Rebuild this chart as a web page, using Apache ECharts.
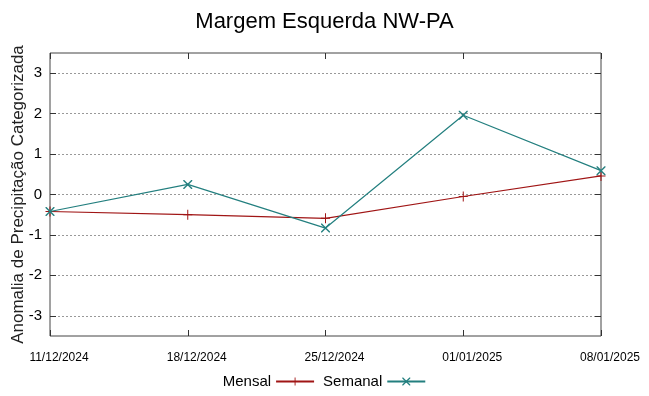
<!DOCTYPE html>
<html>
<head>
<meta charset="utf-8">
<script src="https://cdn.jsdelivr.net/npm/echarts@6/dist/echarts.min.js"></script>
<style>
  html, body { margin: 0; padding: 0; background: #fff; }
  #chart { width: 649px; height: 396px; }
</style>
</head>
<body>
<div id="chart"></div>
<script>
const dates = ['11/12/2024', '18/12/2024', '25/12/2024', '01/01/2025', '08/01/2025'];
const mensal = [-0.42, -0.5, -0.59, -0.05, 0.46];
const semanal = [-0.42, 0.25, -0.83, 1.96, 0.59];
const yTicks = [-3, -2, -1, 0, 1, 2, 3];

const plusPath = 'path://M0,4.5 L9,4.5 L9,5.5 L0,5.5 Z M4,0 L5,0 L5,10 L4,10 Z';
const crossPath = 'path://M0,0 L1,0 L9,8 L9,9 L8,9 L0,1 Z M8,0 L9,0 L9,1 L1,9 L0,9 L0,8 Z';

const chart = echarts.init(document.getElementById('chart'));

const yBase = {
    type: 'value',
    min: -3.5,
    max: 3.5,
    axisLine: { show: false },
    axisTick: { show: true, inside: true, length: 6, customValues: yTicks, lineStyle: { color: '#333' } },
};

const xBase = {
    type: 'category',
    data: dates,
    boundaryGap: false,
    axisLine: { show: false, onZero: false },
    axisTick: { show: true, inside: true, length: 6, lineStyle: { color: '#333' } },
    splitLine: { show: false }
};

chart.setOption({
    animation: false,
    title: {
        text: 'Margem Esquerda NW-PA',
        left: 'center',
        top: 6,
        textStyle: { fontFamily: 'Liberation Sans', fontSize: 22, fontWeight: 'normal', color: '#000' }
    },
    grid: {
        left: 50, right: 48, top: 53, bottom: 60,
        outerBoundsMode: 'none',
        containLabel: false,
        show: true, borderColor: '#444', borderWidth: 1, backgroundColor: '#fff'
    },
    legend: {
        bottom: 2,
        left: 'center',
        align: 'right',
        itemWidth: 38,
        itemHeight: 10,
        itemGap: 8,
        textStyle: { fontFamily: 'Liberation Sans', fontSize: 15, color: '#000' },
        data: ['Mensal', 'Semanal']
    },
    xAxis: [Object.assign({}, xBase, {
        position: 'bottom',
        axisLabel: {
            margin: 16,
            padding: [0, 0, 0, 18],
            fontFamily: 'Liberation Sans',
            fontSize: 12, color: '#000',
            showMinLabel: true, showMaxLabel: true
        }
    }), Object.assign({}, xBase, {
        position: 'top',
        axisLabel: { show: false }
    })],
    yAxis: [Object.assign({}, yBase, {
        position: 'left',
        name: 'Anomalia de Precipitação Categorizada',
        nameLocation: 'middle',
        nameGap: 23,
        nameMoveOverlap: false,
        nameTextStyle: { fontFamily: 'Liberation Sans', fontSize: 17, color: '#222' },
        axisLabel: { customValues: yTicks, margin: 8, fontFamily: 'Liberation Sans', fontSize: 15, color: '#000' },
        splitLine: { show: true, customValues: yTicks, lineStyle: { color: '#999', type: [2, 2], width: 1 } }
    }), Object.assign({}, yBase, {
        position: 'right',
        axisLabel: { show: false },
        splitLine: { show: false }
    })],
    series: [{
        name: 'Mensal',
        type: 'line',
        data: mensal,
        symbol: plusPath,
        symbolSize: [9, 10],
        showAllSymbol: true,
        color: '#a01515',
        lineStyle: { width: 1.2, color: '#a01515' },
        itemStyle: { color: '#a01515' },
        z: 3
    }, {
        name: 'Semanal',
        type: 'line',
        data: semanal,
        symbol: crossPath,
        symbolSize: 9,
        showAllSymbol: true,
        color: '#237f7f',
        lineStyle: { width: 1.2, color: '#237f7f' },
        itemStyle: { color: '#237f7f' },
        z: 4
    }]
});
</script>
</body>
</html>
